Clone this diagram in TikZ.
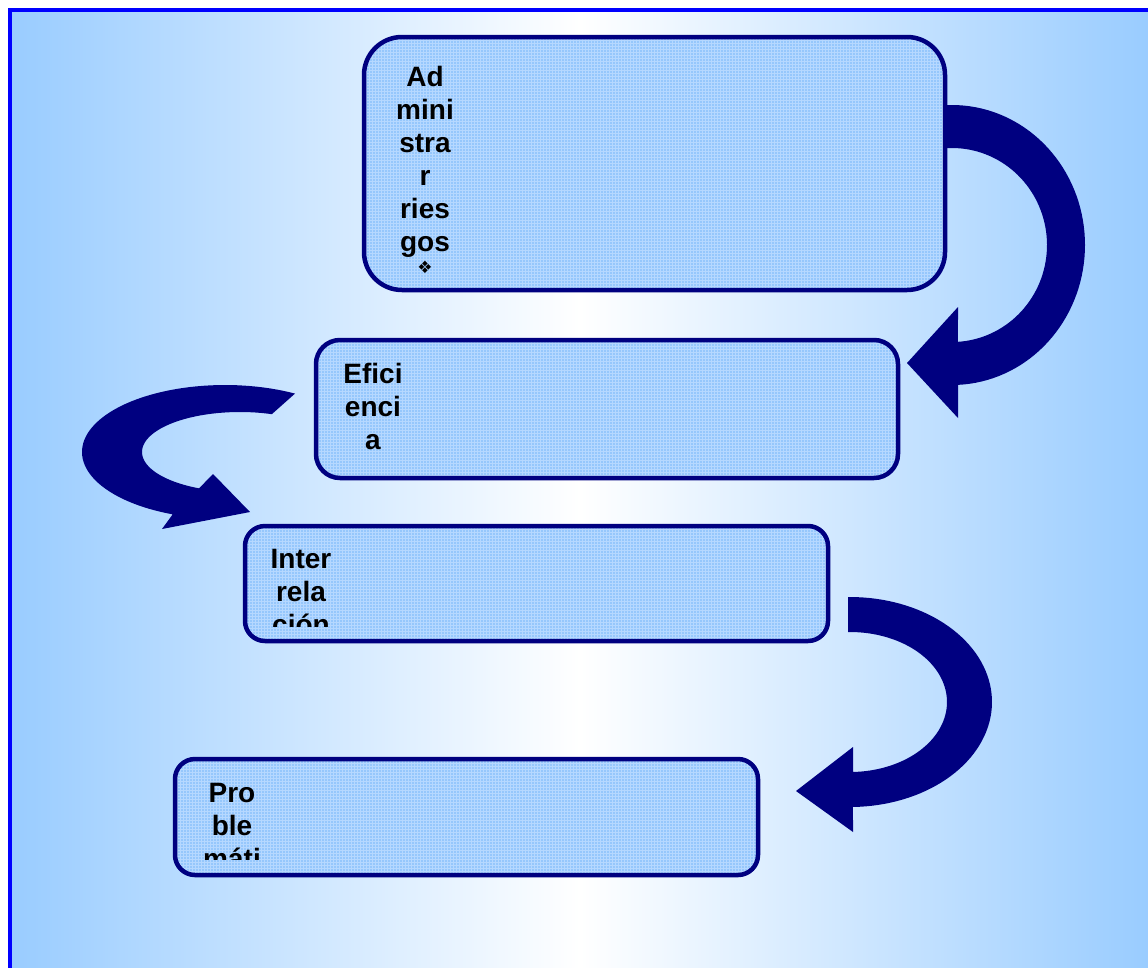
\documentclass[tikz,border=0pt]{standalone}
\usepackage{fontspec}
\usetikzlibrary{patterns}
\setmainfont{Liberation Sans}
\newfontfamily\symfont{DejaVu Sans}

\definecolor{bgside}{RGB}{153,204,255}
\definecolor{framec}{RGB}{0,0,255}
\definecolor{navyc}{RGB}{0,0,128}
\definecolor{boxfill}{RGB}{150,199,252}
\definecolor{gridc}{RGB}{182,216,255}

\tikzset{
  stepbox/.style={rectangle, inner sep=0pt, fill=boxfill,
                  postaction={pattern=grid, pattern color=gridc},
                  postaction={draw=navyc, line width=4.5pt}},
  boxtext/.style={text width=90pt, align=center, inner sep=0pt, anchor=base,
                font=\bfseries\fontsize{28}{33}\selectfont, text=black},
  arcband/.style={fill=navyc}
}

\begin{document}
\begin{tikzpicture}[x=1pt, y=-1pt]
\useasboundingbox (0,0) rectangle (1148,967);

% background panel with horizontal gradient and frame
\shade[left color=bgside, right color=bgside, middle color=white] (10,10) rectangle (1150,969);
\draw[framec, line width=4pt] (10,969) -- (10,10) -- (1150,10);

% curved arrow: top box -> second box
\fill[arcband] (946,105)
  -- plot[domain=-90:87.4, samples=70] ({952+133*cos(\x)},{245+140*sin(\x)})
  -- (958,418) -- (907,363) -- (958,307)
  -- plot[domain=0:1, samples=70] ({952+95*cos(86.4-176.4*\x)},{245+97*sin(86.4-176.4*\x)})
  -- (946,148) -- cycle;

% curved arrow: second box -> third box (left side)
\fill[arcband] (295,393.6)
  -- plot[domain=0:1, samples=70] ({225+143*cos(-60.7-188*\x)},{452+67*sin(-60.7-188*\x)})
  -- (162,529) -- (250,512) -- (213,474)
  -- plot[domain=0:1, samples=70] ({240+98*cos(-245.3+174.4*\x)},{452+40*sin(-245.3+174.4*\x)})
  -- cycle;

% curved arrow: third box -> fourth box
\fill[arcband] (848,597)
  -- plot[domain=-90:88.8, samples=70] ({850+142*cos(\x)},{702+105*sin(\x)})
  -- (853,832) -- (796,791) -- (853,747)
  -- plot[domain=0:1, samples=70] ({850+97*cos(88.2-178.2*\x)},{702+70*sin(88.2-178.2*\x)})
  -- (848,632) -- cycle;

% boxes
\node[stepbox, rounded corners=38pt, minimum width=581pt, minimum height=253pt] (b1) at (654.5,163.5) {};
\node[stepbox, rounded corners=24pt, minimum width=582pt, minimum height=138pt] (b2) at (607,409) {};
\node[stepbox, rounded corners=20pt, minimum width=583pt, minimum height=115pt] (b3) at (536.5,583.5) {};
\node[stepbox, rounded corners=20pt, minimum width=583pt, minimum height=116pt] (b4) at (466.5,817) {};

% box texts
\node[boxtext] (t1) at (425,86) {Ad\\mini\\stra\\r\\ries\\gos};
\node[inner sep=0pt, font=\symfont\fontsize{17}{17}\selectfont] (t1b) at (425,267) {❖};
\node[boxtext] (t2) at (373,383) {Efici\\enci\\a};
\begin{scope}
  \clip (245,526) rectangle (828,626);
  \node[boxtext] (t3) at (301,568) {Inter\\rela\\ción};
\end{scope}
\begin{scope}
  \clip (175,759) rectangle (758,859);
  \node[boxtext] (t4) at (232,802) {Pro\\ble\\máti};
\end{scope}
\end{tikzpicture}
\end{document}
